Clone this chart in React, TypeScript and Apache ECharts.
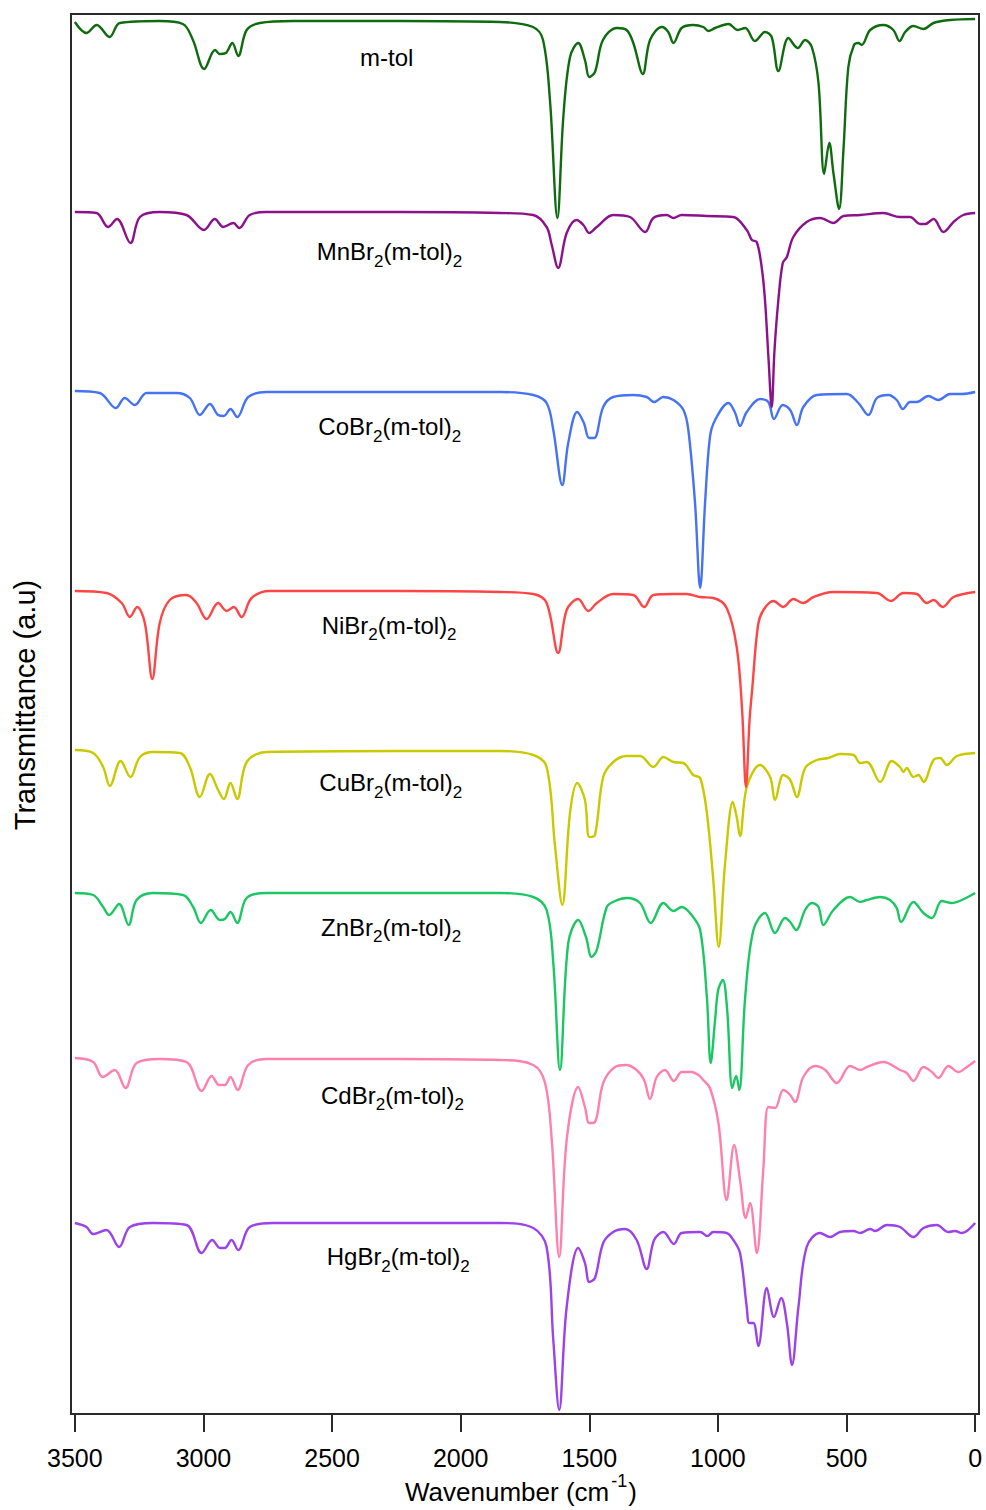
import React, { useEffect, useRef } from 'react';
import * as echarts from 'echarts';

const FONT = '"Liberation Sans", Arial, sans-serif';

// Wavenumber tick values (cm^-1)
const xTicks = [0, 500, 1000, 1500, 2000, 2500, 3000, 3500];

// Compound names (rich text: m = normal, s = subscript)
const compoundLabels = [
  '{m|m-tol}',
  '{m|MnBr}{s|2}{m|(m-tol)}{s|2}',
  '{m|CoBr}{s|2}{m|(m-tol)}{s|2}',
  '{m|NiBr}{s|2}{m|(m-tol)}{s|2}',
  '{m|CuBr}{s|2}{m|(m-tol)}{s|2}',
  '{m|ZnBr}{s|2}{m|(m-tol)}{s|2}',
  '{m|CdBr}{s|2}{m|(m-tol)}{s|2}',
  '{m|HgBr}{s|2}{m|(m-tol)}{s|2}',
];

// Spectra: [wavenumber (cm^-1), transmittance (a.u., stacked)]
const mTol = [[3500,13.92],[3455,13.81],[3415,13.89],[3365,13.77],[3325,13.91],[3170,13.93],[3080,13.90],[3041,13.74],[2997,13.45],[2955,13.64],[2936,13.60],[2913,13.61],[2888,13.71],[2865,13.58],[2832,13.84],[2781,13.91],[2652,13.93],[2236,13.93],[1847,13.92],[1719,13.87],[1680,13.74],[1653,13.14],[1624,11.96],[1601,12.97],[1575,13.57],[1543,13.71],[1517,13.54],[1500,13.37],[1478,13.42],[1447,13.74],[1393,13.86],[1355,13.84],[1329,13.71],[1292,13.40],[1264,13.74],[1218,13.87],[1193,13.82],[1173,13.71],[1141,13.86],[1096,13.89],[1057,13.87],[1037,13.83],[1011,13.86],[959,13.90],[923,13.84],[894,13.86],[856,13.73],[817,13.82],[791,13.77],[765,13.43],[726,13.76],[690,13.66],[661,13.74],[635,13.67],[609,13.31],[587,12.40],[567,12.71],[551,12.41],[529,12.05],[512,12.64],[493,13.47],[471,13.69],[454,13.71],[441,13.69],[408,13.84],[357,13.89],[318,13.84],[294,13.73],[272,13.82],[240,13.88],[201,13.85],[162,13.91],[97,13.94],[0,13.95]];

const mnBr2 = [[3500,12.02],[3416,12.01],[3371,11.87],[3336,11.95],[3284,11.71],[3247,11.97],[3170,12.02],[3066,11.99],[2998,11.84],[2956,11.95],[2923,11.87],[2884,11.91],[2861,11.86],[2820,11.99],[2755,12.02],[2236,12.02],[1847,12.01],[1718,11.99],[1666,11.87],[1647,11.70],[1621,11.46],[1588,11.81],[1549,11.94],[1523,11.89],[1500,11.81],[1471,11.87],[1407,11.99],[1342,11.97],[1283,11.82],[1251,11.96],[1199,11.99],[1173,11.96],[1141,11.99],[1043,11.98],[940,11.97],[888,11.84],[868,11.74],[849,11.72],[830,11.47],[817,11.14],[803,10.54],[791,10.07],[780,10.64],[765,11.14],[748,11.51],[732,11.57],[707,11.77],[655,11.92],[603,11.96],[551,11.91],[512,11.98],[447,11.99],[357,12.01],[292,11.97],[253,11.97],[214,11.90],[194,11.90],[162,11.95],[123,11.82],[84,11.92],[46,11.99],[0,12.01]];

const coBr2 = [[3500,10.23],[3403,10.21],[3341,10.06],[3306,10.16],[3267,10.09],[3221,10.21],[3105,10.21],[3053,10.16],[3014,9.99],[2975,10.10],[2943,9.99],[2921,9.98],[2895,10.05],[2869,9.97],[2826,10.17],[2755,10.22],[2236,10.22],[1847,10.22],[1718,10.19],[1666,10.11],[1640,9.84],[1605,9.29],[1582,9.71],[1547,10.02],[1521,9.91],[1501,9.76],[1481,9.76],[1446,10.07],[1407,10.17],[1329,10.19],[1277,10.17],[1248,10.12],[1212,10.17],[1173,10.14],[1134,10.04],[1115,9.84],[1089,9.11],[1069,8.26],[1050,9.11],[1031,9.77],[1011,9.94],[959,10.11],[933,10.01],[914,9.88],[888,10.02],[836,10.15],[804,10.12],[782,9.95],[748,10.09],[719,10.04],[693,9.89],[668,10.07],[616,10.19],[499,10.20],[454,10.11],[415,9.99],[382,10.16],[337,10.19],[305,10.14],[281,10.05],[253,10.12],[227,10.12],[182,10.18],[143,10.14],[97,10.20],[52,10.20],[0,10.22]];

const niBr2 = [[3500,8.23],[3377,8.21],[3318,8.11],[3286,7.97],[3258,8.07],[3228,7.91],[3199,7.35],[3170,7.91],[3131,8.14],[3066,8.19],[3027,8.11],[2988,7.95],[2943,8.11],[2910,8.03],[2882,8.07],[2852,7.97],[2813,8.16],[2742,8.23],[2236,8.23],[1847,8.22],[1718,8.20],[1666,8.11],[1621,7.61],[1588,8.04],[1543,8.15],[1504,8.03],[1471,8.11],[1407,8.20],[1329,8.19],[1287,8.07],[1251,8.19],[1173,8.20],[1121,8.20],[1069,8.17],[1018,8.16],[966,8.06],[927,7.67],[906,7.04],[891,6.27],[877,6.94],[867,7.24],[844,7.89],[823,8.04],[784,8.13],[746,8.07],[707,8.15],[668,8.11],[629,8.17],[551,8.22],[382,8.21],[328,8.13],[279,8.21],[227,8.20],[188,8.11],[162,8.14],[126,8.07],[84,8.17],[0,8.22]];

const cuBr2 = [[3500,6.64],[3429,6.61],[3390,6.47],[3364,6.28],[3322,6.53],[3284,6.37],[3247,6.57],[3196,6.62],[3092,6.61],[3053,6.47],[3014,6.17],[2975,6.40],[2943,6.24],[2921,6.15],[2895,6.31],[2869,6.15],[2832,6.52],[2755,6.62],[2236,6.63],[1847,6.63],[1718,6.59],[1666,6.47],[1633,5.67],[1605,5.09],[1575,6.01],[1547,6.31],[1517,6.14],[1500,5.77],[1478,5.79],[1446,6.37],[1407,6.52],[1355,6.58],[1303,6.58],[1251,6.47],[1212,6.57],[1173,6.52],[1134,6.51],[1096,6.39],[1069,6.36],[1043,6.01],[1018,5.34],[997,4.67],[972,5.51],[942,6.12],[927,5.97],[914,5.78],[888,6.27],[836,6.49],[797,6.37],[778,6.14],[746,6.39],[719,6.34],[693,6.17],[661,6.46],[616,6.54],[571,6.56],[525,6.60],[473,6.59],[447,6.51],[421,6.52],[369,6.32],[324,6.53],[292,6.47],[279,6.42],[266,6.46],[240,6.37],[220,6.39],[201,6.32],[162,6.54],[136,6.56],[110,6.49],[71,6.58],[0,6.61]];

const znBr2 = [[3500,5.21],[3429,5.19],[3390,5.07],[3367,4.99],[3328,5.10],[3291,4.89],[3260,5.14],[3196,5.21],[3079,5.19],[3040,5.07],[3010,4.91],[2972,5.04],[2936,4.94],[2917,4.95],[2895,5.02],[2869,4.91],[2832,5.16],[2755,5.21],[2236,5.21],[1847,5.21],[1718,5.17],[1666,5.04],[1640,4.51],[1614,3.44],[1582,4.71],[1543,4.94],[1513,4.77],[1491,4.57],[1471,4.64],[1432,5.07],[1400,5.13],[1355,5.16],[1303,5.11],[1261,4.91],[1212,5.11],[1173,5.03],[1141,5.07],[1102,4.99],[1069,4.84],[1043,4.17],[1028,3.51],[1011,3.94],[999,4.24],[981,4.34],[964,4.04],[944,3.26],[929,3.38],[917,3.24],[894,4.17],[862,4.84],[817,5.01],[778,4.81],[739,4.96],[719,4.92],[696,4.84],[661,5.04],[635,5.11],[609,5.07],[590,4.89],[551,5.04],[486,5.17],[447,5.12],[421,5.14],[369,5.17],[331,5.14],[305,5.06],[288,4.92],[240,5.12],[201,5.01],[168,4.96],[130,5.13],[91,5.11],[52,5.14],[0,5.21]];

const cdBr2 = [[3500,3.56],[3429,3.52],[3392,3.37],[3345,3.44],[3303,3.26],[3260,3.51],[3170,3.55],[3066,3.52],[3007,3.23],[2968,3.38],[2939,3.29],[2917,3.29],[2895,3.37],[2867,3.24],[2826,3.49],[2755,3.55],[2236,3.55],[1847,3.54],[1718,3.49],[1672,3.31],[1646,2.74],[1617,1.57],[1588,2.74],[1543,3.27],[1517,3.07],[1500,2.91],[1478,2.92],[1446,3.31],[1400,3.47],[1357,3.49],[1316,3.44],[1287,3.34],[1264,3.15],[1238,3.37],[1206,3.44],[1171,3.33],[1141,3.42],[1102,3.42],[1076,3.39],[1057,3.34],[1031,3.26],[998,2.91],[966,2.14],[937,2.69],[914,2.34],[892,1.96],[875,2.11],[849,1.61],[823,2.47],[804,3.07],[778,3.06],[746,3.24],[719,3.19],[700,3.12],[668,3.37],[622,3.48],[583,3.44],[538,3.31],[486,3.48],[447,3.44],[421,3.47],[357,3.52],[292,3.44],[266,3.41],[240,3.33],[201,3.47],[168,3.42],[143,3.36],[104,3.48],[65,3.42],[32,3.47],[0,3.53]];

const hgBr2 = [[3500,1.91],[3455,1.87],[3429,1.80],[3377,1.84],[3328,1.67],[3286,1.87],[3196,1.91],[3066,1.89],[3007,1.61],[2966,1.74],[2936,1.66],[2917,1.66],[2891,1.74],[2865,1.64],[2820,1.87],[2729,1.91],[2236,1.91],[1847,1.91],[1718,1.86],[1666,1.67],[1640,0.74],[1617,0.04],[1588,1.07],[1543,1.66],[1517,1.51],[1500,1.32],[1478,1.36],[1446,1.71],[1407,1.82],[1361,1.85],[1316,1.74],[1277,1.45],[1248,1.74],[1212,1.82],[1171,1.70],[1141,1.81],[1069,1.82],[1041,1.78],[1018,1.82],[966,1.81],[940,1.74],[914,1.61],[888,1.07],[878,0.91],[862,0.91],[843,0.68],[810,1.26],[782,0.97],[754,1.16],[732,0.91],[712,0.49],[687,1.07],[655,1.67],[603,1.81],[564,1.77],[525,1.82],[473,1.83],[447,1.81],[408,1.85],[389,1.83],[343,1.89],[292,1.87],[240,1.77],[201,1.86],[149,1.89],[104,1.82],[78,1.83],[52,1.81],[0,1.91]];

const spectra = [mTol, mnBr2, coBr2, niBr2, cuBr2, znBr2, cdBr2, hgBr2];

// Styles / layout (kept apart from the data)
const colors = ['#0e6b0e', '#8c128c', '#4672f6', '#ff4545', '#c9c900', '#1bc762', '#ff80aa', '#9b42ea'];
const labelPos = [
  [360, 45.5], [316.7, 239.7], [318.3, 414.7], [321.7, 613], [319.3, 770.7], [321, 915.4], [321, 1083], [326.7, 1244.7],
];

export default function App() {
  const ref = useRef<HTMLDivElement>(null);

  useEffect(() => {
    if (!ref.current) return;
    const chart = echarts.init(ref.current, null, { renderer: 'svg' });

    const labelRich = {
      m: { fontSize: 24, fontFamily: FONT, fill: '#000', verticalAlign: 'top' },
      s: { fontSize: 17, fontFamily: FONT, fill: '#000', verticalAlign: 'top', padding: [13, 0, 0, 0] },
    };

    const graphics: any[] = compoundLabels.map((t, i) => ({
      type: 'text',
      x: labelPos[i][0],
      y: labelPos[i][1],
      z: 100,
      style: {
        text: t,
        rich: labelRich,
        fill: '#000',
        fontSize: 24,
        fontFamily: FONT,
        align: 'left',
        verticalAlign: 'top',
      },
    }));

    graphics.push({
      type: 'text',
      x: 25,
      y: 705,
      rotation: Math.PI / 2,
      style: {
        text: 'Transmittance (a.u)',
        fill: '#000',
        fontSize: 29,
        fontFamily: FONT,
        align: 'center',
        verticalAlign: 'middle',
      },
    });

    graphics.push({
      type: 'text',
      x: 405,
      y: 1472,
      style: {
        text: '{m|Wavenumber (cm}{sup|-1}{m|)}',
        fill: '#000',
        fontSize: 26,
        fontFamily: FONT,
        align: 'left',
        verticalAlign: 'top',
        rich: {
          m: { fontSize: 26, fontFamily: FONT, fill: '#000', verticalAlign: 'top', padding: [7, 0, 0, 0] },
          sup: { fontSize: 18, fontFamily: FONT, fill: '#000', verticalAlign: 'top', padding: [0, 1, 0, 2] },
        },
      },
    });

    chart.setOption({
      animation: false,
      backgroundColor: '#ffffff',
      grid: {
        left: 71,
        top: 14,
        width: 908,
        height: 1400,
        show: true,
        borderColor: '#2a2a2a',
        borderWidth: 2,
        backgroundColor: 'transparent',
      },
      xAxis: {
        type: 'value',
        min: -15,
        max: 3515,
        inverse: true,
        axisLine: { show: false },
        splitLine: { show: false },
        axisTick: {
          show: true,
          inside: false,
          length: 18,
          customValues: xTicks,
          lineStyle: { color: '#2a2a2a', width: 2 },
        },
        axisLabel: {
          customValues: xTicks,
          formatter: (v: number) => String(v),
          fontSize: 25,
          fontFamily: FONT,
          color: '#000',
          margin: 31,
        },
      },
      yAxis: {
        type: 'value',
        min: 0,
        max: 14,
        show: false,
        splitLine: { show: false },
      },
      series: spectra.map((d, i) => ({
        type: 'line',
        data: d,
        symbol: 'none',
        showSymbol: false,
        smooth: 0.35,
        z: 20 - i,
        lineStyle: { color: colors[i], width: 2.4 },
        itemStyle: { color: colors[i] },
      })),
      graphic: graphics,
    });

    return () => chart.dispose();
  }, []);

  return (
    <div
      ref={ref}
      style={{ position: 'absolute', left: 0, top: 0, width: 986, height: 1510, background: '#fff' }}
    />
  );
}
